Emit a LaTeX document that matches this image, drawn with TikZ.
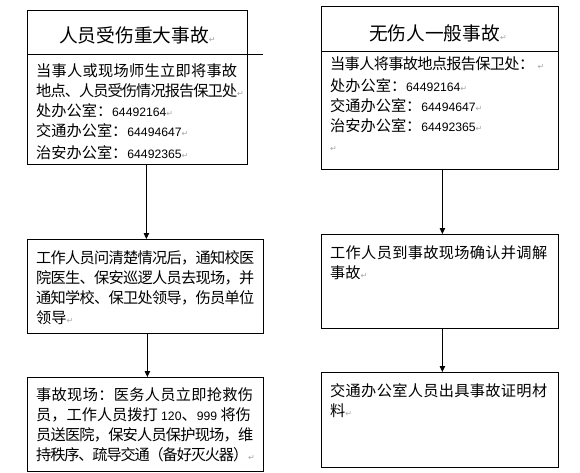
\documentclass[tikz,border=0pt]{standalone}
\usepackage{fontspec}
\setmainfont{Noto Sans CJK SC}
\newfontfamily\digfont{Liberation Sans}
\newfontfamily\dvfont{DejaVu Sans}
\usetikzlibrary{arrows.meta}
\newcommand\num[1]{{\digfont\fontsize{12.2}{20}\selectfont #1}}
\newcommand\parmk{{\dvfont\fontsize{8}{8}\selectfont\color{gray!70}↵}}
\makeatletter
\def\jl@sp#1{\ifx#1\relax\else\hskip0pt plus1fil minus1fil #1\expandafter\jl@sp\fi}
\def\jl@first#1{#1\jl@sp}
\newcommand\jl[2]{\makebox[#1][s]{\jl@first#2\relax}}
\makeatother
\newcommand\fl{\rule{0pt}{13pt}}
\begin{document}
\begin{tikzpicture}[x=1pt,y=-1pt,
  box/.style={draw,line width=0.8pt,inner sep=0pt,anchor=north west},
  txt/.style={anchor=north west,inner sep=0pt,align=left,font=\fontsize{15.2}{20}\selectfont},
  ttl/.style={inner sep=0pt,font=\fontsize{18.7}{20}\selectfont},
  arr/.style={line width=0.8pt,-{Triangle[length=6pt,width=5.5pt]}}]
\useasboundingbox (0,0) rectangle (580,472);
% boxes
\node[box,minimum width=220pt,minimum height=154pt] (l1) at (27,10) {};
\node[box,minimum width=237pt,minimum height=163pt] (r1) at (321,6) {};
\node[box,minimum width=236pt,minimum height=94pt] (l2) at (27,239) {};
\node[box,minimum width=236pt,minimum height=94pt] (l3) at (27,377) {};
\node[box,minimum width=237pt,minimum height=94pt] (r2) at (321,234) {};
\node[box,minimum width=237pt,minimum height=95pt] (r3) at (321,372) {};
% header dividers
\draw[line width=0.8pt] ([yshift=-44pt]l1.north west) -- ++(236,0);
\draw[line width=0.8pt] ([yshift=-45pt]r1.north west) -- ([yshift=-45pt]r1.north east);
% titles
\node[ttl] (tl) at ([yshift=-25pt]l1.north) {人员受伤重大事故\parmk};
\node[ttl] (tr) at ([shift={(-2,27)}]r1.north) {无伤人一般事故\parmk};
% texts
\node[txt] (tl1) at ([shift={(9,52.8)}]l1.north west) {%
\fl\jl{201pt}{当事人或现场师生立即将事故}\\
\jl{201pt}{地点、人员受伤情况报告保卫处}\parmk\\
处办公室：\num{64492164}\parmk\\
交通办公室：\num{64494647}\parmk\\[2.5pt]
治安办公室：\num{64492365}\parmk};
\node[txt] (tr1) at ([shift={(9,49.8)}]r1.north west) {%
\fl\jl{204pt}{当事人将事故地点报告保卫处：}\ \parmk\\[2pt]
处办公室：\num{64492164}\parmk\\
交通办公室：\num{64494647}\parmk\\
治安办公室：\num{64492365}\parmk\\
\parmk};
\node[txt] (tl2) at ([shift={(9,10.8)}]l2.north west) {%
\fl\jl{218pt}{工作人员问清楚情况后，通知校医}\\
\jl{218pt}{院医生、保安巡逻人员去现场，并}\\
\jl{218pt}{通知学校、保卫处领导，伤员单位}\\
领导\parmk};
\node[txt] (tr2) at ([shift={(9,10.8)}]r2.north west) {%
\fl\jl{217pt}{工作人员到事故现场确认并调解}\\
事故\parmk};
\node[txt] (tl3) at ([shift={(9,9.8)}]l3.north west) {%
\fl\jl{217pt}{事故现场：医务人员立即抢救伤}\\
员，工作人员拨打 \num{120}、\num{999} 将伤\\
\jl{217pt}{员送医院，保安人员保护现场，维}\\
\jl{212pt}{持秩序、疏导交通（备好灭火器）}\parmk};
\node[txt] (tr3) at ([shift={(9,10.8)}]r3.north west) {%
\fl\jl{217pt}{交通办公室人员出具事故证明材}\\
料\parmk};
% arrows
\draw[arr] ([xshift=1pt]l2.north |- l1.south) -- ([xshift=1pt]l2.north);
\draw[arr] ([xshift=2pt]l3.north |- l2.south) -- ([xshift=2pt]l3.north);
\draw[arr] ([xshift=2.5pt]r2.north |- r1.south) -- ([xshift=2.5pt]r2.north);
\draw[arr] ([xshift=2.5pt]r3.north |- r2.south) -- ([xshift=2.5pt]r3.north);
\end{tikzpicture}
\end{document}
